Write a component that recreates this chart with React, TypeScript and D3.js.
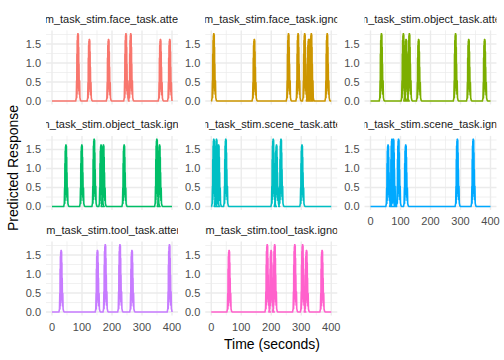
import React, { useEffect } from 'react';
import * as d3 from 'd3';

const WIDTH = 504;
const HEIGHT = 360;

// facet labels (strip text) and ggplot hue colours
const conditions = [
  'face_task.attend', 'face_task.ignore',
  'object_task.attend', 'object_task.ignore',
  'scene_task.attend', 'scene_task.ignore',
  'tool_task.attend', 'tool_task.ignore',
];
const stripPrefix = 'stim_task_stim.';
const panelColors = ['#F8766D', '#CD9600', '#7CAE00', '#00BE67', '#00BFC4', '#00A9FF', '#C77CFF', '#FF61CC'];

// peak heights
const TALL = 1.77;
const SHORT = 1.62;

// time (s) of each response peak, per condition
const peakTimes = [
  [86, 124, 188, 246, 262, 361, 392],
  [8, 143, 257, 289, 311, 324, 328, 333, 386],
  [36, 109, 118, 129, 160, 283, 327, 380],
  [46, 99, 140, 163, 171, 240, 349, 358],
  [8, 17, 24, 48, 206, 217, 232, 302],
  [58, 71, 76, 93, 117, 289, 342],
  [30, 151, 177, 226, 266, 391],
  [59, 186, 199, 211, 278, 304, 317, 369],
];
const peakHeights = [
  [TALL, SHORT, SHORT, TALL, TALL, SHORT, SHORT],
  [TALL, SHORT, TALL, TALL, TALL, SHORT, SHORT, TALL, TALL],
  [TALL, TALL, SHORT, TALL, SHORT, TALL, SHORT, SHORT],
  [SHORT, SHORT, TALL, SHORT, SHORT, SHORT, TALL, SHORT],
  [TALL, TALL, SHORT, TALL, TALL, SHORT, TALL, SHORT],
  [SHORT, TALL, TALL, TALL, SHORT, TALL, TALL],
  [SHORT, SHORT, TALL, TALL, SHORT, TALL],
  [SHORT, TALL, SHORT, TALL, TALL, TALL, SHORT, SHORT],
];

// shape of one spike around its peak: [offset s, share of peak]
const peakProfile: [number, number][] = [
  [-7, 0], [-5, 0.05], [-4, 0.3], [-3.5, 0.05], [-3, 0.7], [-2.5, 0.1], [-2, 0.9],
  [-1.5, 0.2], [-1, 0.97], [-0.5, 0.3], [0, 1], [0.5, 0.4], [1, 1], [1.5, 0.3],
  [2, 0.98], [2.5, 0.2], [3, 0.8], [3.5, 0.15], [4, 0.55], [5, 0.1], [6, 0.3],
  [7, 0.05], [9, 0.01], [11, 0],
];

const timeDomain = [0, 400];
const xTicks = [0, 100, 200, 300, 400];
const xMinor = [50, 150, 250, 350];
const yTicks = [0, 0.5, 1, 1.5];
const yTickLabels = ['0.0', '0.5', '1.0', '1.5'];
const yMinor = [0.25, 0.75, 1.25, 1.75];

// layout
const panelW = 132;
const panelH = 74;
const left0 = 46;
const gapX = 27.25;
const top0 = 30.4;
const rowStep = 105.5;
const stripH = 23;
const font = '"Liberation Sans", Arial, Helvetica, sans-serif';

const x = d3.scaleLinear().domain([timeDomain[0] - 20, timeDomain[1] + 20]).range([0, panelW]);
const y = d3.scaleLinear().domain([-0.0885, 1.8585]).range([panelH, 0]);

function seriesFor(i: number): [number, number][] {
  const pts: [number, number][] = [[timeDomain[0], 0]];
  peakTimes[i].forEach((t, k) => {
    peakProfile.forEach(([dt, f]) => pts.push([t + dt, peakHeights[i][k] * f]));
  });
  pts.push([timeDomain[1], 0]);
  return pts;
}

const line = d3.line<[number, number]>()
  .x(d => x(Math.max(timeDomain[0], Math.min(timeDomain[1], d[0]))))
  .y(d => y(d[1]));

const Panel = ({ i }: { i: number }) => {
  const col = i % 3;
  const row = Math.floor(i / 3);
  const px = left0 + col * (panelW + gapX);
  const py = top0 + row * rowStep;
  // x labels only at the bottom of each column
  const showX = i + 3 >= conditions.length;
  return (
    <g transform={`translate(${px},${py})`}>
      <defs>
        <clipPath id={`strip-${i}`}>
          <rect x={0} y={-stripH} width={panelW} height={stripH} />
        </clipPath>
      </defs>
      <g clipPath={`url(#strip-${i})`}>
        <text x={panelW / 2} y={-7.5} textAnchor="middle" fontSize={11} fill="#1A1A1A" fontFamily={font}>
          {stripPrefix + conditions[i]}
        </text>
      </g>
      {xMinor.map(v => (
        <line key={'xm' + v} x1={x(v)} x2={x(v)} y1={0} y2={panelH} stroke="#EBEBEB" strokeWidth={0.7} />
      ))}
      {yMinor.map(v => (
        <line key={'ym' + v} x1={0} x2={panelW} y1={y(v)} y2={y(v)} stroke="#EBEBEB" strokeWidth={0.7} />
      ))}
      {xTicks.map(v => (
        <line key={'x' + v} x1={x(v)} x2={x(v)} y1={0} y2={panelH} stroke="#EBEBEB" strokeWidth={1.4} />
      ))}
      {yTicks.map(v => (
        <line key={'y' + v} x1={0} x2={panelW} y1={y(v)} y2={y(v)} stroke="#EBEBEB" strokeWidth={1.4} />
      ))}
      {yTicks.map((v, k) => (
        <text key={'yl' + v} x={-5} y={y(v)} dy="0.36em" textAnchor="end" fontSize={11} fill="#4D4D4D" fontFamily={font}>
          {yTickLabels[k]}
        </text>
      ))}
      {showX && xTicks.map(v => (
        <text key={'xl' + v} x={x(v)} y={panelH + 15.5} textAnchor="middle" fontSize={11} fill="#4D4D4D" fontFamily={font}>
          {v}
        </text>
      ))}
      <path d={line(seriesFor(i)) || ''} fill="none" stroke={panelColors[i]} strokeWidth={1.6} strokeLinejoin="round" />
    </g>
  );
};

export default function App() {
  useEffect(() => {
    document.body.style.margin = '0';
  }, []);
  return (
    <svg width={WIDTH} height={HEIGHT} style={{ display: 'block', background: '#fff' }}>
      {conditions.map((_, i) => <Panel key={i} i={i} />)}
      <text x={272} y={349} textAnchor="middle" fontSize={14} fill="#000" fontFamily={font}>
        Time (seconds)
      </text>
      <text transform="translate(18,168) rotate(-90)" textAnchor="middle" fontSize={14} fill="#000" fontFamily={font}>
        Predicted Response
      </text>
    </svg>
  );
}
